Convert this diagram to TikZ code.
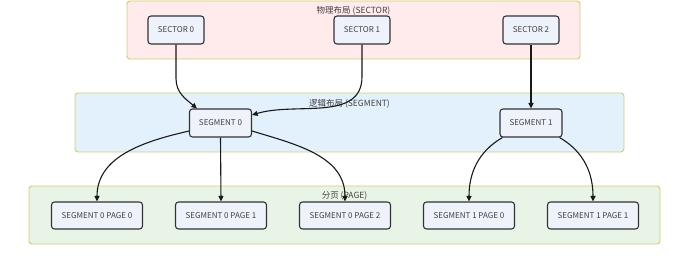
\documentclass[tikz,border=0pt]{standalone}
\usepackage{fontspec}
\setmainfont{Noto Sans CJK SC}
\usetikzlibrary{arrows.meta,positioning,calc,backgrounds}

\definecolor{physbg}{HTML}{FFEAEC}
\definecolor{logbg}{HTML}{E3F1FC}
\definecolor{pagebg}{HTML}{E8F5E6}
\definecolor{layerline}{HTML}{D0CF70}
\definecolor{boxbg}{HTML}{EEF2FB}
\definecolor{boxline}{HTML}{333333}

\begin{document}
\begin{tikzpicture}[
  x=1pt, y=-1pt,
  layer/.style={
    draw=layerline, line width=0.9pt, rectangle, rounded corners=3pt
  },
  layertitle/.style={
    font=\fontsize{8.5}{10}\selectfont, text=black!75, inner sep=1pt
  },
  blockbox/.style={
    draw=boxline, line width=1.1pt, rectangle, rounded corners=3pt,
    fill=boxbg, minimum height=28pt, align=center,
    font=\fontsize{8}{10}\selectfont, text=black!75
  },
  sector/.style={blockbox, minimum width=56pt},
  segment/.style={blockbox, minimum width=62pt},
  page/.style={blockbox, minimum width=91pt, minimum height=27pt},
  link/.style={
    draw=black!90, line width=1.1pt,
    -{Triangle[length=5.5pt,width=5pt]}
  }
]
\useasboundingbox (0,0) rectangle (690,257);

% Layers
\node[layer, fill=physbg, minimum width=453pt, minimum height=58pt] (phys) at (353.5,30) {};
\node[layer, fill=logbg, minimum width=549pt, minimum height=59pt] (logi) at (349.5,122.5) {};
\node[layer, fill=pagebg, minimum width=631pt, minimum height=58pt] (pages) at (344.5,215) {};

\node[layertitle, below=5pt of phys.north]  (physT)  {物理布局 (SECTOR)};
\node[layertitle, below=5.5pt of logi.north]  (logiT)  {逻辑布局 (SEGMENT)};
\node[layertitle, below=5pt of pages.north] (pagesT) {分页 (PAGE)};

% Sectors
\node[sector] (s0) at (176,30) {SECTOR 0};
\node[sector] (s1) at (362,30) {SECTOR 1};
\node[sector] (s2) at (531,30) {SECTOR 2};

% Segments
\node[segment] (g0) at (220.5,123) {SEGMENT 0};
\node[segment] (g1) at (531,123)   {SEGMENT 1};

% Pages
\foreach \i/\seg/\pg in {0/0/0,1/0/1,2/0/2,3/1/0,4/1/1} {
  \node[page] (p\i) at ({97+124*\i},215.5) {SEGMENT \seg\ PAGE \pg};
}

% Sectors to segments
\draw[link] (s0.south) -- ++(0,34) to[out=-90,in=140] ([xshift=8pt]g0.north west);
\draw[link] (s1.south) -- ++(0,32) to[out=-90,in=17] ([yshift=8pt]g0.east);
\draw[link] (s2.south) -- (g1.north);

% Segments to pages
\draw[link] ([yshift=-8pt]g0.west) to[out=193,in=90] (p0.north);
\draw[link] (g0.south) -- (p1.north);
\draw[link] ([yshift=-8pt]g0.east) to[out=-17,in=90] (p2.north);
\draw[link] ([xshift=3pt]g1.south west) to[out=210,in=90] (p3.north);
\draw[link] ([xshift=-3pt]g1.south east) to[out=-30,in=90] (p4.north);

\end{tikzpicture}
\end{document}
